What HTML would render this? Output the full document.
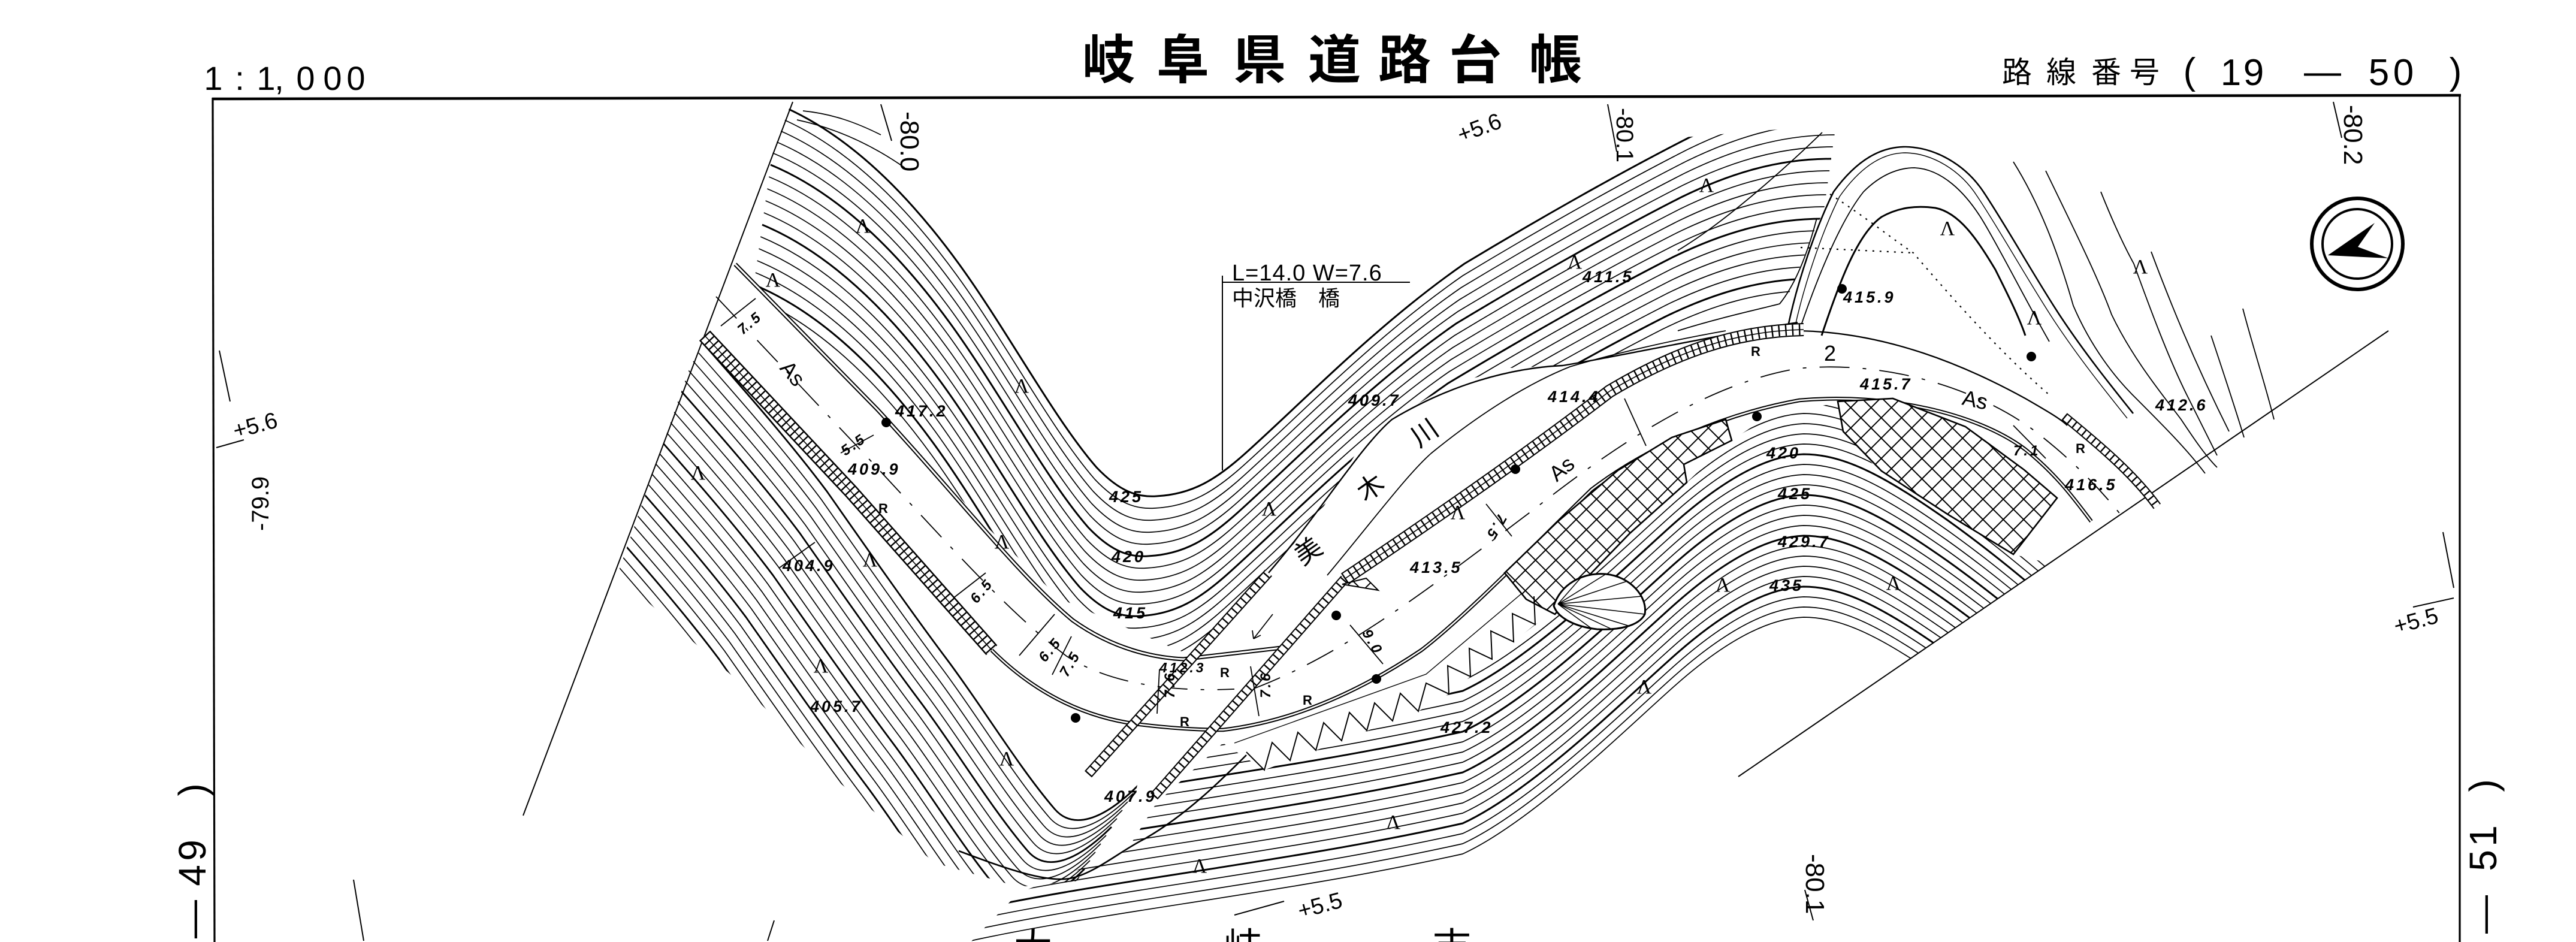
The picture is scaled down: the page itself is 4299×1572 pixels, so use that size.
<!DOCTYPE html>
<html><head><meta charset="utf-8">
<style>
html,body{margin:0;padding:0;background:#fff;width:4299px;height:1572px;overflow:hidden;}
svg{display:block;}
.n{font-family:"Liberation Sans",sans-serif;font-style:italic;font-weight:bold;font-size:27px;letter-spacing:4px;fill:#000}
.s{font-family:"Liberation Sans",sans-serif;fill:#000}
.j{font-family:"Liberation Sans","Noto Sans CJK JP",sans-serif;fill:#000}
.L{font-family:"Liberation Serif",serif;font-size:34px;fill:#000;text-anchor:middle}
.r{font-family:"Liberation Sans",sans-serif;font-weight:bold;font-size:22px;fill:#000}
</style></head><body>
<svg xmlns="http://www.w3.org/2000/svg" width="4299" height="1572" viewBox="0 0 4299 1572" overflow="hidden">
<rect width="4299" height="1572" fill="#fff"/>
<defs>
<pattern id="xh" patternUnits="userSpaceOnUse" width="24" height="24" patternTransform="rotate(45)"><rect width="24" height="24" fill="#fff"/><path d="M0,1H24M1,0V24" stroke="#000" stroke-width="2"/></pattern>
<path id="U0" d="M1300,175 C1420,225 1520,330 1600,440 C1680,550 1760,700 1830,780 C1870,822 1900,830 1930,828 C1990,825 2030,800 2080,755 C2180,665 2300,540 2444,440 C2560,370 2700,290 2820,229 C2900,190 2980,165 3070,165"/>
<path id="R0" d="M1620,1570 C1850,1520 2150,1490 2441,1425 C2560,1370 2720,1210 2800,1140 C2880,1070 2950,1032 3010,1030 C3080,1030 3150,1070 3250,1140 C3320,1190 3380,1240 3450,1300"/>
<path id="L0" d="M1175,575 C1250,660 1320,740 1380,820 C1450,920 1520,1020 1580,1100 C1640,1180 1700,1280 1760,1350 C1790,1385 1840,1370 1900,1310"/>
<path id="sA" d="M1176,560 L1420,820 L1655,1085"/>
<path id="sB" d="M1816,1292 L2117,956"/>
<path id="sC" d="M1926,1329 L2244,966"/>
<path id="sD" d="M2244,966 C2380,875 2540,765 2686,653 C2800,585 2900,552 3010,550"/>
<path id="sE" d="M3445,695 C3500,740 3560,790 3600,845"/>
<clipPath id="cU"><path d="M1323,165 L1221,441 L1464,683 L1645,877 L1767,998 L1961,1083 L1995,1095 L2117,956 L2200,860 L2270,745 L2323,700 L2420,642 L2520,614 L2608,610 L2700,595 L2850,562 L2960,545 L2990,480 L3030,380 L3060,320 L3100,205 L2800,230 L2400,200 L2400,165 Z"/></clipPath>
<clipPath id="cR"><path d="M1620,1572 L1700,1490 L1880,1420 L1930,1340 L2041,1240 L2110,1285 L2367,1187 L2418,1158 L2562,1042 L2595,1025 L2656,956 L2720,890 L2815,805 L2890,735 L2950,695 L3067,672 L3076,720 L3140,790 L3250,858 L3360,925 L3420,940 L2901,1296 L2901,1572 Z"/></clipPath>
<clipPath id="cL"><path d="M1175,545 L1030,960 L1230,1135 L1400,1305 L1560,1440 L1700,1480 L1800,1470 L1880,1400 L1900,1300 L1895,1205 L1760,1170 L1655,1085 L1420,820 Z"/></clipPath>
</defs>

<!-- frame -->
<g stroke="#000" fill="none">
<path d="M354,165 L4107,159" stroke-width="4.5"/>
<path d="M355,163 L358,1572" stroke-width="3.2"/>
<path d="M4105,158 L4105,1572" stroke-width="3.2"/>
</g>

<!-- header text -->
<g class="j" font-size="88" font-weight="bold" text-anchor="middle">
<text x="1850" y="131">岐</text><text x="1974" y="131">阜</text><text x="2102" y="131">県</text><text x="2227" y="131">道</text><text x="2344" y="131">路</text><text x="2462" y="131">台</text><text x="2596" y="131">帳</text>
</g>
<g class="s" font-size="56" text-anchor="middle">
<text x="356" y="150">1</text><text x="400" y="150">:</text><text x="444" y="150">1</text><text x="466" y="150">,</text><text x="510" y="150">0</text><text x="555" y="150">0</text><text x="594" y="150">0</text>
</g>
<g class="j" font-size="50" text-anchor="middle">
<text x="3366" y="138">路</text><text x="3440" y="138">線</text><text x="3515" y="138">番</text><text x="3579" y="138">号</text>
</g>
<g class="s" font-size="62" text-anchor="middle">
<text x="3654" y="140">(</text><text x="3723" y="142">1</text><text x="3761" y="142">9</text><text x="3876" y="140">—</text><text x="3970" y="142">5</text><text x="4011" y="142">0</text><text x="4098" y="140">)</text>
</g>

<!-- side labels -->
<g class="s" font-size="64" text-anchor="middle">
<text transform="translate(343,1318) rotate(-90)">)</text>
<text transform="translate(343,1419) rotate(-90)">9</text>
<text transform="translate(343,1461) rotate(-90)">4</text>
<text transform="translate(343,1534) rotate(-90)">—</text>
<text transform="translate(4166,1311) rotate(-90)">)</text>
<text transform="translate(4166,1395) rotate(-90)">1</text>
<text transform="translate(4166,1436) rotate(-90)">5</text>
<text transform="translate(4166,1526) rotate(-90)">—</text>
</g>
<g class="j" font-size="64" text-anchor="middle">
<text x="1724" y="1603">大</text><text x="2074" y="1603">岐</text><text x="2423" y="1603">市</text>
</g>

<!-- boundary lines -->
<g stroke="#000" fill="none" stroke-width="2">
<path d="M1323,170 L873,1361"/>
<path d="M3986,552 L2901,1296"/>
<path d="M1470,174 L1488,235"/>
<path d="M2683,174 L2698,253"/>
<path d="M3894,170 L3908,230"/>
<path d="M366,585 L384,670"/>
<path d="M3012,1485 L3026,1536"/>
<path d="M2060,1527 L2143,1504"/>
<path d="M4027,1013 L4095,998"/>
<path d="M4077,888 L4095,981"/>
<path d="M361,747 L407,734"/>
<path d="M590,1468 L607,1570"/>
<path d="M1292,1536 L1281,1570"/>
</g>

<!-- U family: upper-left hill -->
<g clip-path="url(#cU)" fill="none" stroke="#000" stroke-width="1.7">
<use href="#U0" stroke-width="3"/>
<use href="#U0" transform="translate(-2.8,20)"/>
<use href="#U0" transform="translate(-5.6,40)"/>
<use href="#U0" transform="translate(-8.4,60)"/>
<use href="#U0" transform="translate(-11.2,80)"/>
<use href="#U0" transform="translate(-14,100)" stroke-width="3"/>
<use href="#U0" transform="translate(-16.8,120)"/>
<use href="#U0" transform="translate(-19.6,140)"/>
<use href="#U0" transform="translate(-22.4,160)"/>
<use href="#U0" transform="translate(-25.2,180)"/>
<use href="#U0" transform="translate(-28,200)" stroke-width="3"/>
<use href="#U0" transform="translate(-30.8,220)"/>
<use href="#U0" transform="translate(-33.6,240)"/>
<use href="#U0" transform="translate(-36.4,260)"/>
<use href="#U0" transform="translate(-39.2,280)"/>
<use href="#U0" transform="translate(-42,300)" stroke-width="3"/>
<use href="#U0" transform="translate(-44.8,320)"/>
</g>
<g fill="none" stroke="#000" stroke-width="1.7">
<path d="M1330,200 C1400,215 1460,245 1510,280"/>
<path d="M1340,185 C1390,190 1430,205 1470,225"/>
</g>

<!-- R family: big ridge -->
<g clip-path="url(#cR)" fill="none" stroke="#000" stroke-width="1.7">
<use href="#R0"/>
<use href="#R0" transform="translate(0,-17)"/>
<use href="#R0" transform="translate(0,-34)"/>
<use href="#R0" transform="translate(0,-51)" stroke-width="3"/>
<use href="#R0" transform="translate(0,-68)"/>
<use href="#R0" transform="translate(0,-85)"/>
<use href="#R0" transform="translate(0,-102)"/>
<use href="#R0" transform="translate(0,-119)"/>
<use href="#R0" transform="translate(0,-136)" stroke-width="3"/>
<use href="#R0" transform="translate(0,-153)"/>
<use href="#R0" transform="translate(0,-170)"/>
<use href="#R0" transform="translate(0,-187)"/>
<use href="#R0" transform="translate(0,-204)" stroke-width="3"/>
<use href="#R0" transform="translate(0,-221)"/>
<use href="#R0" transform="translate(0,-238)"/>
<use href="#R0" transform="translate(0,-255)"/>
<use href="#R0" transform="translate(0,-272)" stroke-width="3"/>
<use href="#R0" transform="translate(0,-289)"/>
<use href="#R0" transform="translate(0,-306)"/>
<use href="#R0" transform="translate(0,-323)"/>
<use href="#R0" transform="translate(0,-340)"/>
<use href="#R0" transform="translate(0,-357)"/>
</g>

<!-- LL family: lower-left hill -->
<g clip-path="url(#cL)" fill="none" stroke="#000" stroke-width="1.7">
<use href="#L0" stroke-width="2.8"/>
<use href="#L0" transform="translate(-9,14)"/>
<use href="#L0" transform="translate(-18,28)"/>
<use href="#L0" transform="translate(-27,42)"/>
<use href="#L0" transform="translate(-36,56)"/>
<use href="#L0" transform="translate(-45,70)" stroke-width="2.8"/>
<use href="#L0" transform="translate(-54,84)"/>
<use href="#L0" transform="translate(-63,98)"/>
<use href="#L0" transform="translate(-72,112)"/>
<use href="#L0" transform="translate(-81,126)"/>
<use href="#L0" transform="translate(-90,140)" stroke-width="2.8"/>
<use href="#L0" transform="translate(-99,154)"/>
<use href="#L0" transform="translate(-108,168)"/>
<use href="#L0" transform="translate(-117,182)"/>
<use href="#L0" transform="translate(-126,196)"/>
<use href="#L0" transform="translate(-135,210)" stroke-width="2.8"/>
<use href="#L0" transform="translate(-144,224)"/>
<use href="#L0" transform="translate(-153,238)"/>
<use href="#L0" transform="translate(-162,252)"/>
<use href="#L0" transform="translate(-171,266)"/>
<use href="#L0" transform="translate(-180,280)" stroke-width="2.8"/>
<use href="#L0" transform="translate(-189,294)"/>
<use href="#L0" transform="translate(-198,308)"/>
</g>
<g fill="none" stroke="#000" stroke-width="2.6">
<path d="M1600,1420 C1680,1450 1750,1475 1790,1465 C1830,1455 1870,1420 1910,1400 C1980,1360 2040,1300 2080,1260"/>
</g>

<!-- S hill (upper right) -->
<g fill="none" stroke="#000" stroke-width="1.8">
<path d="M2985,540 C3000,470 3030,380 3060,320 C3100,265 3140,245 3180,245 C3230,246 3280,275 3310,320 C3350,380 3400,470 3440,530 C3480,590 3520,640 3560,690" stroke-width="2.6"/>
<path d="M2995,548 C3010,478 3040,388 3070,328 C3108,274 3145,255 3180,255 C3225,256 3272,284 3300,328 C3340,388 3390,478 3430,538 C3470,598 3510,648 3550,698" stroke-width="1.4"/>
<path d="M3000,560 C3030,470 3070,370 3110,320 C3140,290 3170,280 3195,280 C3240,282 3280,320 3310,370 C3340,420 3380,500 3420,570"/>
<path d="M3040,560 C3070,470 3100,390 3140,362 C3170,345 3200,343 3230,347 C3270,355 3300,400 3330,450 C3350,490 3370,530 3380,560" stroke-width="3"/>
<path d="M3360,270 C3410,350 3440,440 3460,510 C3490,580 3530,630 3560,660 C3610,710 3650,750 3680,790"/>
<path d="M3414,285 C3460,380 3500,460 3524,525 C3560,600 3610,660 3640,700 C3660,730 3680,760 3700,780"/>
<path d="M3506,320 C3530,380 3550,420 3561,440 C3590,520 3620,600 3650,660 C3670,700 3690,740 3700,760"/>
<path d="M3590,420 C3620,500 3660,600 3720,720"/>
<path d="M3743,515 C3760,580 3780,640 3795,700"/>
<path d="M3690,560 C3710,620 3730,680 3745,730"/>
<path d="M2800,418 C2880,370 2980,280 3041,221"/>
<path d="M2800,552 C2870,530 2940,515 2970,507 C3000,470 3020,410 3032,364"/>
</g>
<g fill="none" stroke="#000" stroke-width="2.2" stroke-dasharray="3 9">
<path d="M3054,324 C3110,360 3160,400 3193,422 C3260,500 3340,590 3420,659"/>
<path d="M3005,413 L3193,422"/>
</g>

<!-- river and roads -->
<g fill="none" stroke="#000">
<path d="M2117,956 C2200,860 2270,745 2323,700 C2420,642 2520,614 2608,610 C2700,595 2850,562 3000,538" stroke-width="2.4"/>
<path d="M2215,960 C2290,870 2350,790 2389,756 C2470,690 2550,640 2620,612 C2700,588 2800,566 2880,552" stroke-width="1.8"/>
<path d="M1227,441 L1464,683 C1600,830 1700,960 1790,1035 C1860,1085 1930,1098 1975,1100 L2147,1080" stroke-width="7"/>
<path d="M1227,441 L1464,683 C1600,830 1700,960 1790,1035 C1860,1085 1930,1098 1975,1100 L2147,1080" stroke="#fff" stroke-width="3"/>
<path d="M1655,1085 C1720,1150 1800,1195 1895,1208 C1950,1215 2000,1218 2041,1218 C2150,1205 2260,1160 2372,1085 C2450,1025 2560,910 2656,817 C2750,745 2880,690 3003,668 C3150,655 3300,690 3380,750 C3430,790 3460,830 3490,870" stroke-width="6.5"/>
<path d="M1655,1085 C1720,1150 1800,1195 1895,1208 C1950,1215 2000,1218 2041,1218 C2150,1205 2260,1160 2372,1085 C2450,1025 2560,910 2656,817 C2750,745 2880,690 3003,668 C3150,655 3300,690 3380,750 C3430,790 3460,830 3490,870" stroke="#fff" stroke-width="2.5"/>
<path d="M3003,552 C3150,555 3280,610 3380,665 C3420,688 3440,700 3450,710" stroke-width="2.3"/>
<path d="M1195,495 L1440,755 C1580,905 1680,1020 1780,1095 C1850,1140 1950,1155 2060,1150" stroke-width="1.8" stroke-dasharray="50 22 6 22"/>
<path d="M2090,1150 C2250,1090 2400,970 2560,850 C2700,740 2850,640 3000,615 C3150,600 3300,650 3390,715 C3450,760 3500,810 3540,860" stroke-width="1.8" stroke-dasharray="50 22 6 22"/>
</g>

<!-- hatched strips -->
<g fill="none">
<use href="#sA" stroke="#000" stroke-width="25"/><use href="#sA" stroke="#fff" stroke-width="20"/><use href="#sA" stroke="#000" stroke-width="20" stroke-dasharray="2.4 8"/><use href="#sA" stroke="#000" stroke-width="1.6"/>
<use href="#sB" stroke="#000" stroke-width="16"/><use href="#sB" stroke="#fff" stroke-width="12"/><use href="#sB" stroke="#000" stroke-width="12" stroke-dasharray="2.4 9"/>
<use href="#sC" stroke="#000" stroke-width="16"/><use href="#sC" stroke="#fff" stroke-width="12"/><use href="#sC" stroke="#000" stroke-width="12" stroke-dasharray="2.4 9"/>
<use href="#sD" stroke="#000" stroke-width="22"/><use href="#sD" stroke="#fff" stroke-width="18"/><use href="#sD" stroke="#000" stroke-width="18" stroke-dasharray="2.4 9"/><use href="#sD" stroke="#000" stroke-width="1.6"/>
<use href="#sE" stroke="#000" stroke-width="15"/><use href="#sE" stroke="#fff" stroke-width="11"/><use href="#sE" stroke="#000" stroke-width="11" stroke-dasharray="2.4 8"/>
<path d="M2280,965 L2240,975 L2300,985 Z" fill="url(#xh)" stroke="#000" stroke-width="2"/>
</g>

<!-- crosshatched walls -->
<g stroke="#000" stroke-width="2.6">
<path d="M2511,956 L2600,870 L2700,785 L2790,730 L2880,700 L2890,735 L2810,775 L2815,805 L2720,890 L2656,956 L2595,1025 L2547,1000 Z" fill="url(#xh)"/>
<path d="M3067,670 L3159,665 L3280,712 L3378,784 L3433,831 L3360,925 L3250,858 L3140,786 L3076,720 Z" fill="url(#xh)"/>
</g>

<!-- sawtooth slope -->
<g fill="none" stroke="#000" stroke-width="2">
<path d="M2080,1255 L2110,1285 L2123,1239 L2153,1269 L2166,1222 L2196,1252 L2209,1206 L2239,1236 L2252,1189 L2281,1219 L2294,1173 L2324,1203 L2337,1157 L2367,1187 L2380,1140 L2418,1158 L2416,1111 L2454,1129 L2452,1082 L2490,1100 L2488,1053 L2526,1071 L2524,1024 L2562,1042 L2560,995"/>
<path d="M2060,1240 L2380,1125 L2540,990" stroke-width="1.4"/>
<path d="M2593,1011 C2605,975 2640,955 2680,958 C2720,962 2750,995 2745,1025 C2735,1045 2700,1052 2665,1050 C2630,1046 2600,1032 2593,1011 Z" fill="#fff" stroke-width="3"/>
<path d="M2600,1008 L2640,962 M2600,1008 L2680,958 M2600,1008 L2715,970 M2600,1008 L2740,995 M2600,1008 L2745,1025 M2600,1008 L2720,1045 M2600,1008 L2690,1050 M2600,1008 L2655,1048" stroke-width="1.5"/>
</g>

<!-- label leader -->
<g stroke="#000" stroke-width="2" fill="none">
<path d="M2040,460 L2040,785"/>
<path d="M2040,471 L2353,471"/>
</g>
<text class="s" x="2056" y="468" font-size="38" letter-spacing="1">L=14.0  W=7.6</text>
<text class="j" x="2056" y="510" font-size="36">中沢橋　橋</text>

<!-- compass -->
<g>
<circle cx="3934" cy="407" r="76" fill="none" stroke="#000" stroke-width="6"/>
<circle cx="3934" cy="407" r="58" fill="none" stroke="#000" stroke-width="4"/>
<path d="M3885,426 L3963,372 L3935,412 L3986,431 Z" fill="#000"/>
</g>

<!-- dimension lines -->
<g stroke="#000" stroke-width="1.8" fill="none">
<path d="M1203,544 L1261,498"/><path d="M1403,756 L1458,726"/><path d="M1591,998 L1645,956"/>
<path d="M1701,1094 L1760,1025"/><path d="M1756,1126 L1788,1062"/><path d="M1931,1191 L1935,1117"/>
<path d="M2087,1112 L2101,1195"/><path d="M2253,1043 L2308,1108"/><path d="M2480,841 L2523,895"/>
<path d="M2711,665 L2747,744"/><path d="M3360,710 L3414,765"/>
<path d="M2124,1025 L2092,1066"/><path d="M2092,1066 L2090,1052 M2092,1066 L2104,1060"/>
<path d="M1300,948 L1360,905"/>
</g>

<!-- dots -->
<g fill="#000">
<circle cx="1479" cy="705" r="8"/><circle cx="1795" cy="1198" r="8"/><circle cx="2230" cy="1027" r="8"/>
<circle cx="2297" cy="1133" r="8"/><circle cx="2529" cy="783" r="8"/><circle cx="2932" cy="695" r="8"/>
<circle cx="3074" cy="482" r="8"/><circle cx="3390" cy="595" r="8"/>
</g>

<!-- spot heights -->
<g class="n">
<text x="1494" y="695">417.2</text><text x="1415" y="792">409.9</text><text x="1306" y="953">404.9</text>
<text x="1352" y="1188">405.7</text><text x="1851" y="838">425</text><text x="1855" y="938">420</text>
<text x="1858" y="1032">415</text><text x="1935" y="1122" font-size="23">412.3</text><text x="2250" y="677">409.7</text>
<text x="2641" y="471">411.5</text><text x="2583" y="671">414.4</text><text x="2353" y="956">413.5</text>
<text x="3076" y="505">415.9</text><text x="3104" y="650">415.7</text><text x="3597" y="685">412.6</text>
<text x="3446" y="818">416.5</text><text x="2948" y="765">420</text><text x="2967" y="833">425</text>
<text x="2967" y="913">429.7</text><text x="2953" y="986">435</text><text x="2404" y="1223">427.2</text>
<text x="1843" y="1338">407.9</text>
<text x="1225" y="550" font-size="24" transform="rotate(-40 1245 535)">7.5</text>
<text x="1400" y="752" font-size="24" transform="rotate(-35 1420 740)">5.5</text>
<text x="1612" y="1000" font-size="24" transform="rotate(-50 1630 985)">6.5</text>
<text x="1728" y="1098" font-size="24" transform="rotate(-50 1745 1085)">6.5</text>
<text x="1760" y="1126" font-size="24" transform="rotate(-60 1775 1110)">7.5</text>
<text x="1935" y="1160" font-size="24" transform="rotate(-90 1950 1150)">7.6</text>
<text x="2095" y="1160" font-size="24" transform="rotate(-90 2110 1150)">7.6</text>
<text x="2276" y="1080" font-size="24" transform="rotate(60 2295 1065)">9.0</text>
<text x="2486" y="895" font-size="24" transform="rotate(120 2505 880)">7.5</text>
<text x="3360" y="760" font-size="24">7.1</text>
</g>

<!-- road & misc labels -->
<g class="s" font-size="36">
<text transform="translate(1300,615) rotate(50)">As</text>
<text transform="translate(2598,805) rotate(-40)">As</text>
<text transform="translate(3273,675) rotate(12)">As</text>
<text x="3044" y="602" font-size="36">2</text>
</g>
<g class="r">
<text x="1466" y="856">R</text><text x="2036" y="1130">R</text><text x="1969" y="1212">R</text>
<text x="2174" y="1176">R</text><text x="2922" y="594">R</text><text x="3464" y="756">R</text>
</g>
<g class="j" font-size="44" text-anchor="middle">
<text transform="translate(2386,735) rotate(-35)">川</text>
<text transform="translate(2296,826) rotate(-35)">木</text>
<text transform="translate(2192,932) rotate(-35)">美</text>
</g>

<!-- rotated elevation labels -->
<g class="s">
<text font-size="44" transform="translate(1503,186) rotate(90)">-80.0</text>
<text font-size="40" transform="translate(2698,180) rotate(90)">-80.1</text>
<text font-size="44" transform="translate(3912,175) rotate(90)">-80.2</text>
<text font-size="40" transform="translate(448,886) rotate(-90)">-79.9</text>
<text font-size="44" transform="translate(3014,1425) rotate(90)">-80.1</text>
<text font-size="38" transform="translate(393,732) rotate(-15)">+5.6</text>
<text font-size="38" transform="translate(2438,238) rotate(-20)">+5.6</text>
<text font-size="38" transform="translate(3999,1058) rotate(-15)">+5.5</text>
<text font-size="38" transform="translate(2170,1533) rotate(-15)">+5.5</text>
</g>

<!-- vegetation marks -->
<g class="L">
<text x="1440" y="388">Λ</text><text x="1290" y="478">Λ</text><text x="1705" y="655">Λ</text>
<text x="1672" y="915">Λ</text><text x="1165" y="800">Λ</text><text x="1452" y="945">Λ</text>
<text x="1370" y="1122">Λ</text><text x="2848" y="320">Λ</text><text x="2628" y="448">Λ</text>
<text x="2118" y="860">Λ</text><text x="2433" y="866">Λ</text><text x="2875" y="987">Λ</text>
<text x="3250" y="392">Λ</text><text x="3572" y="456">Λ</text><text x="3395" y="541">Λ</text>
<text x="3160" y="984">Λ</text><text x="2744" y="1157">Λ</text><text x="1680" y="1277">Λ</text>
<text x="2002" y="1456">Λ</text><text x="2325" y="1383">Λ</text>
</g>
</svg>
</body></html>
